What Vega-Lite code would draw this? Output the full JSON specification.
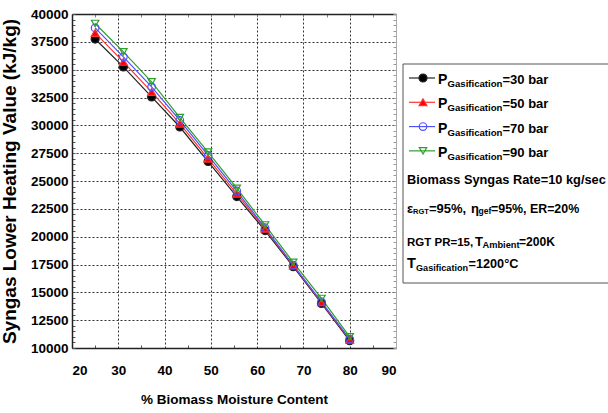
{
  "$schema": "https://vega.github.io/schema/vega-lite/v6.json",
  "width": 324,
  "height": 334,
  "autosize": {"type": "none"},
  "padding": {"left": 72, "top": 14, "right": 212, "bottom": 65},
  "background": "white",
  "config": {
    "view": {"stroke": null},
    "axis": {"labelFont": "Liberation Sans", "labelFontWeight": "bold", "labelColor": "#000", "titleColor": "#000"},
    "text": {"font": "Liberation Sans", "fontWeight": "bold", "align": "left", "baseline": "alphabetic", "color": "#000"}
  },
  "layer": [
    {
      "data": {"values": [
        {"p": "30 bar", "x": 25, "y": 37750}, {"p": "30 bar", "x": 31.1, "y": 35250}, {"p": "30 bar", "x": 37.2, "y": 32550}, {"p": "30 bar", "x": 43.3, "y": 29850}, {"p": "30 bar", "x": 49.4, "y": 26750},
        {"p": "30 bar", "x": 55.6, "y": 23600}, {"p": "30 bar", "x": 61.7, "y": 20550}, {"p": "30 bar", "x": 67.8, "y": 17300}, {"p": "30 bar", "x": 73.9, "y": 14000}, {"p": "30 bar", "x": 80, "y": 10650},
        {"p": "50 bar", "x": 25, "y": 38300}, {"p": "50 bar", "x": 31.1, "y": 35700}, {"p": "50 bar", "x": 37.2, "y": 33000}, {"p": "50 bar", "x": 43.3, "y": 30150}, {"p": "50 bar", "x": 49.4, "y": 27000},
        {"p": "50 bar", "x": 55.6, "y": 23850}, {"p": "50 bar", "x": 61.7, "y": 20700}, {"p": "50 bar", "x": 67.8, "y": 17400}, {"p": "50 bar", "x": 73.9, "y": 14100}, {"p": "50 bar", "x": 80, "y": 10750},
        {"p": "70 bar", "x": 25, "y": 38750}, {"p": "70 bar", "x": 31.1, "y": 36150}, {"p": "70 bar", "x": 37.2, "y": 33450}, {"p": "70 bar", "x": 43.3, "y": 30450}, {"p": "70 bar", "x": 49.4, "y": 27300},
        {"p": "70 bar", "x": 55.6, "y": 24100}, {"p": "70 bar", "x": 61.7, "y": 20800}, {"p": "70 bar", "x": 67.8, "y": 17450}, {"p": "70 bar", "x": 73.9, "y": 14150}, {"p": "70 bar", "x": 80, "y": 10800},
        {"p": "90 bar", "x": 25, "y": 39150}, {"p": "90 bar", "x": 31.1, "y": 36600}, {"p": "90 bar", "x": 37.2, "y": 33900}, {"p": "90 bar", "x": 43.3, "y": 30700}, {"p": "90 bar", "x": 49.4, "y": 27600},
        {"p": "90 bar", "x": 55.6, "y": 24350}, {"p": "90 bar", "x": 61.7, "y": 21050}, {"p": "90 bar", "x": 67.8, "y": 17700}, {"p": "90 bar", "x": 73.9, "y": 14450}, {"p": "90 bar", "x": 80, "y": 11000}
      ]},
      "layer": [
        {
          "mark": {"type": "point", "opacity": 0},
          "encoding": {
            "x": {"field": "x", "type": "quantitative", "scale": {"domain": [20, 90], "nice": false, "zero": false},
              "axis": {"orient": "bottom", "values": [30, 40, 50, 60, 70, 80], "grid": true, "gridColor": "#333", "gridDash": [2, 2], "gridWidth": 1, "labels": false, "ticks": false, "domain": false, "title": null}},
            "y": {"field": "y", "type": "quantitative", "scale": {"domain": [10000, 40000], "nice": false, "zero": false},
              "axis": {"orient": "left", "values": [12500, 15000, 17500, 20000, 22500, 25000, 27500, 30000, 32500, 35000, 37500], "grid": true, "gridColor": "#333", "gridDash": [2, 2], "gridWidth": 1, "labels": false, "ticks": false, "domain": false, "title": null}}
          }
        },
        {
          "mark": {"type": "point", "opacity": 0},
          "encoding": {
            "x": {"field": "x", "type": "quantitative", "scale": {"domain": [20, 90], "nice": false, "zero": false},
              "axis": {"orient": "top", "values": [25, 30, 35, 40, 45, 50, 55, 60, 65, 70, 75, 80, 85], "grid": false, "labels": false, "ticks": true, "tickSize": -3, "tickColor": "#888", "domainColor": "#222", "domainWidth": 1.5, "title": null}},
            "y": {"field": "y", "type": "quantitative", "scale": {"domain": [10000, 40000], "nice": false, "zero": false},
              "axis": {"orient": "right", "values": [10000,10500,11000,11500,12000,12500,13000,13500,14000,14500,15000,15500,16000,16500,17000,17500,18000,18500,19000,19500,20000,20500,21000,21500,22000,22500,23000,23500,24000,24500,25000,25500,26000,26500,27000,27500,28000,28500,29000,29500,30000,30500,31000,31500,32000,32500,33000,33500,34000,34500,35000,35500,36000,36500,37000,37500,38000,38500,39000,39500,40000], "grid": false, "labels": false, "ticks": true, "tickSize": -3, "tickColor": "#999", "domainColor": "#aaa", "domainWidth": 1, "title": null}}
          }
        },
        {
          "mark": {"type": "point", "opacity": 0},
          "encoding": {
            "x": {"field": "x", "type": "quantitative", "scale": {"domain": [20, 90], "nice": false, "zero": false},
              "axis": {"orient": "bottom", "values": [25, 35, 45, 55, 65, 75, 85], "grid": false, "labels": false, "ticks": true, "tickSize": -3, "tickColor": "#555", "domain": false, "title": null}},
            "y": {"field": "y", "type": "quantitative", "scale": {"domain": [10000, 40000], "nice": false, "zero": false},
              "axis": {"orient": "left", "values": [10000,10500,11000,11500,12000,12500,13000,13500,14000,14500,15000,15500,16000,16500,17000,17500,18000,18500,19000,19500,20000,20500,21000,21500,22000,22500,23000,23500,24000,24500,25000,25500,26000,26500,27000,27500,28000,28500,29000,29500,30000,30500,31000,31500,32000,32500,33000,33500,34000,34500,35000,35500,36000,36500,37000,37500,38000,38500,39000,39500,40000], "grid": false, "labels": false, "ticks": true, "tickSize": -3, "tickColor": "#555", "domain": false, "title": null}}
          }
        },
        {
          "mark": {"type": "line", "strokeWidth": 1.2},
          "encoding": {
            "x": {"field": "x", "type": "quantitative", "scale": {"domain": [20, 90], "nice": false, "zero": false},
              "axis": {"orient": "bottom", "values": [20, 30, 40, 50, 60, 70, 80, 90], "format": "d", "grid": false, "ticks": false, "domainColor": "#222", "domainWidth": 1.5, "labelFontSize": 13.5, "labelPadding": 15.5,
                "title": "% Biomass Moisture Content", "titleFont": "Liberation Sans", "titleFontSize": 13.5, "titleFontWeight": "bold", "titlePadding": 15.5}},
            "y": {"field": "y", "type": "quantitative", "scale": {"domain": [10000, 40000], "nice": false, "zero": false},
              "axis": {"orient": "left", "values": [10000, 12500, 15000, 17500, 20000, 22500, 25000, 27500, 30000, 32500, 35000, 37500, 40000], "format": "d", "grid": false, "ticks": false, "domainColor": "#222", "domainWidth": 1.5, "labelFontSize": 13.5, "labelPadding": 4,
                "title": "Syngas Lower Heating Value (kJ/kg)", "titleFont": "Liberation Sans", "titleFontSize": 19, "titleFontWeight": "bold", "titlePadding": 11}},
            "stroke": {"field": "p", "type": "nominal", "scale": {"domain": ["30 bar", "50 bar", "70 bar", "90 bar"], "range": ["#222", "#ff3030", "#5050ff", "#2e9e2e"]}, "legend": null}
          }
        },
        {
          "mark": {"type": "point", "filled": true, "strokeWidth": 1.2, "opacity": 1},
          "encoding": {
            "x": {"field": "x", "type": "quantitative", "scale": {"domain": [20, 90], "nice": false, "zero": false}, "axis": null},
            "y": {"field": "y", "type": "quantitative", "scale": {"domain": [10000, 40000], "nice": false, "zero": false}, "axis": null},
            "stroke": {"field": "p", "type": "nominal", "legend": null},
            "fill": {"field": "p", "type": "nominal", "scale": {"domain": ["30 bar", "50 bar", "70 bar", "90 bar"], "range": ["#000000", "#ff0000", "transparent", "transparent"]}, "legend": null},
            "shape": {"field": "p", "type": "nominal", "scale": {"domain": ["30 bar", "50 bar", "70 bar", "90 bar"], "range": ["circle", "triangle-up", "circle", "triangle-down"]}, "legend": null},
            "size": {"field": "p", "type": "nominal", "scale": {"domain": ["30 bar", "50 bar", "70 bar", "90 bar"], "range": [64, 55, 60, 85]}, "legend": null}
          }
        }
      ],
      "resolve": {"axis": {"x": "independent", "y": "independent"}}
    },
    {
      "data": {"values": [{"box": 1}]},
      "mark": {"type": "rect", "fill": "white", "stroke": "#555", "strokeWidth": 1},
      "encoding": {
        "x": {"datum": 0, "type": "quantitative", "scale": {"domain": [0, 1], "range": [331, 545]}, "axis": null},
        "x2": {"datum": 1},
        "y": {"datum": 0, "type": "quantitative", "scale": {"domain": [0, 1], "range": [50, 269]}, "axis": null},
        "y2": {"datum": 1}
      }
    },
    {
      "data": {"values": [
        {"line": "l1", "p": "30 bar", "val": "=30 bar"},
        {"line": "l2", "p": "50 bar", "val": "=50 bar"},
        {"line": "l3", "p": "70 bar", "val": "=70 bar"},
        {"line": "l4", "p": "90 bar", "val": "=90 bar"}
      ]},
      "encoding": {
        "x": {"datum": 0, "type": "quantitative", "scale": {"domain": [0, 1], "range": [330, 545]}, "axis": null},
        "y": {"field": "line", "type": "nominal", "scale": {"type": "point", "domain": ["l1", "l2", "l3", "l4", "l5", "l6", "l7", "l8"], "range": [70, 240], "padding": 0}, "axis": null}
      },
      "layer": [
        {
          "mark": {"type": "point", "shape": "M-1,0L1,0", "size": 676, "filled": false, "strokeWidth": 1.2, "opacity": 1, "xOffset": 20, "yOffset": -6},
          "encoding": {"stroke": {"field": "p", "type": "nominal", "legend": null}}
        },
        {
          "mark": {"type": "point", "filled": true, "strokeWidth": 1.2, "opacity": 1, "xOffset": 21, "yOffset": -6},
          "encoding": {
            "stroke": {"field": "p", "type": "nominal", "legend": null},
            "fill": {"field": "p", "type": "nominal", "legend": null},
            "shape": {"field": "p", "type": "nominal", "legend": null},
            "size": {"field": "p", "type": "nominal", "legend": null}
          }
        },
        {
          "mark": {"type": "text", "fontSize": 14, "dx": 36},
          "encoding": {"text": {"value": "P"}}
        },
        {
          "mark": {"type": "text", "fontSize": 9.6, "dx": 45.5, "dy": 3},
          "encoding": {"text": {"value": "Gasification"}}
        },
        {
          "mark": {"type": "text", "fontSize": 13, "dx": 100.5},
          "encoding": {"text": {"field": "val"}}
        },
        {
          "data": {"values": [{"line": "l5"}]},
          "mark": {"type": "text", "fontSize": 12.8, "dx": 5, "dy": 3},
          "encoding": {"text": {"value": "Biomass Syngas Rate=10 kg/sec"}}
        },
        {
          "data": {"values": [{"line": "l6"}]},
          "mark": {"type": "text", "fontSize": 13, "dx": 5, "dy": 7.5},
          "encoding": {"text": {"value": "ε"}}
        },
        {
          "data": {"values": [{"line": "l6"}]},
          "mark": {"type": "text", "fontSize": 7.5, "dx": 11, "dy": 9},
          "encoding": {"text": {"value": "RGT"}}
        },
        {
          "data": {"values": [{"line": "l6"}]},
          "mark": {"type": "text", "fontSize": 13, "dx": 27, "dy": 7.5},
          "encoding": {"text": {"value": "=95%,"}}
        },
        {
          "data": {"values": [{"line": "l6"}]},
          "mark": {"type": "text", "fontSize": 13, "dx": 69, "dy": 7.5},
          "encoding": {"text": {"value": "η"}}
        },
        {
          "data": {"values": [{"line": "l6"}]},
          "mark": {"type": "text", "fontSize": 8.5, "dx": 76.5, "dy": 9},
          "encoding": {"text": {"value": "gef"}}
        },
        {
          "data": {"values": [{"line": "l6"}]},
          "mark": {"type": "text", "fontSize": 12.4, "dx": 89, "dy": 7.5},
          "encoding": {"text": {"value": "=95%, ER=20%"}}
        },
        {
          "data": {"values": [{"line": "l7"}]},
          "mark": {"type": "text", "fontSize": 11.5, "dx": 5, "dy": 16},
          "encoding": {"text": {"value": "RGT PR=15,"}}
        },
        {
          "data": {"values": [{"line": "l7"}]},
          "mark": {"type": "text", "fontSize": 13, "dx": 73, "dy": 16},
          "encoding": {"text": {"value": "T"}}
        },
        {
          "data": {"values": [{"line": "l7"}]},
          "mark": {"type": "text", "fontSize": 9.25, "dx": 80.5, "dy": 18.5},
          "encoding": {"text": {"value": "Ambient"}}
        },
        {
          "data": {"values": [{"line": "l7"}]},
          "mark": {"type": "text", "fontSize": 12.1, "dx": 117, "dy": 16},
          "encoding": {"text": {"value": "=200K"}}
        },
        {
          "data": {"values": [{"line": "l8"}]},
          "mark": {"type": "text", "fontSize": 14.5, "dx": 5, "dy": 14},
          "encoding": {"text": {"value": "T"}}
        },
        {
          "data": {"values": [{"line": "l8"}]},
          "mark": {"type": "text", "fontSize": 9.1, "dx": 14, "dy": 16.7},
          "encoding": {"text": {"value": "Gasification"}}
        },
        {
          "data": {"values": [{"line": "l8"}]},
          "mark": {"type": "text", "fontSize": 12.7, "dx": 66.5, "dy": 14},
          "encoding": {"text": {"value": "=1200°C"}}
        }
      ]
    }
  ],
  "resolve": {"scale": {"x": "independent", "y": "independent"}}
}
